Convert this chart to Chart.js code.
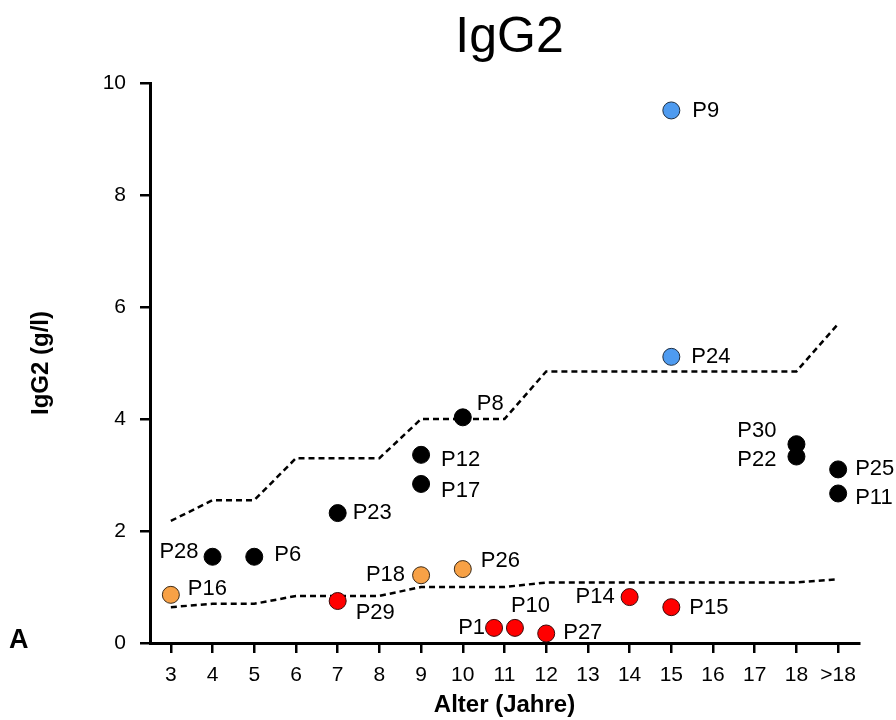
<!DOCTYPE html>
<html>
<head>
<meta charset="utf-8">
<title>IgG2</title>
<script src="https://cdn.jsdelivr.net/npm/chart.js@4.4.1/dist/chart.umd.min.js"></script>
<style>
    body { margin: 0; background: #fff; }
    canvas { display: block; }
</style>
</head>
<body>
<canvas id="iggChart" width="896" height="720"></canvas>
<script>
// Patients, age and measured IgG2
const patients = ['P16', 'P28', 'P6', 'P23', 'P29', 'P12', 'P17', 'P18', 'P8', 'P26', 'P1',
    'P10', 'P27', 'P14', 'P15', 'P9', 'P24', 'P30', 'P22', 'P25', 'P11'];
const ages = [3, 4, 5, 7, 7, 9, 9, 9, 10, 10, 10.75, 11.25, 12, 14, 15, 15, 15, 18, 18, 19, 19];
const igg2 = [0.86, 1.54, 1.54, 2.32, 0.75, 3.36, 2.84, 1.21, 4.03, 1.32, 0.27,
    0.27, 0.17, 0.82, 0.64, 9.51, 5.11, 3.55, 3.33, 3.10, 2.67];
const groups = ['orange', 'black', 'black', 'black', 'red', 'black', 'black', 'orange', 'black', 'orange', 'red',
    'red', 'red', 'red', 'red', 'blue', 'blue', 'black', 'black', 'black', 'black'];

// Age reference range (upper / lower limit)
const refAges = [3, 4, 5, 6, 7, 8, 9, 10, 11, 12, 13, 14, 15, 16, 17, 18, 19];
const upperRef = [2.18, 2.55, 2.55, 3.3, 3.3, 3.3, 4.0, 4.0, 4.0, 4.85, 4.85, 4.85, 4.85, 4.85, 4.85, 4.85, 5.7];
const lowerRef = [0.64, 0.7, 0.7, 0.84, 0.84, 0.84, 1.0, 1.0, 1.0, 1.08, 1.08, 1.08, 1.08, 1.08, 1.08, 1.08, 1.14];

// Axis ticks
const ageTicks = [3, 4, 5, 6, 7, 8, 9, 10, 11, 12, 13, 14, 15, 16, 17, 18, 19];
const ageLabels = ['3', '4', '5', '6', '7', '8', '9', '10', '11', '12', '13', '14', '15', '16', '17', '18', '>18'];

const groupColors = {
    black: { fill: '#000000', border: '#000000' },
    orange: { fill: '#F7A146', border: '#3a2a18' },
    red: { fill: '#FF0000', border: '#3a0a0a' },
    blue: { fill: '#4E9BF0', border: '#1d2d40' }
};

// label placement next to each dot: dx, dy, alignment
const labelPos = {
    P9: [21, 0, 'left'], P24: [20, 0, 'left'], P8: [14, -13, 'left'], P12: [20, 5, 'left'],
    P17: [20, 7, 'left'], P23: [15, 0, 'left'], P28: [-14, -5, 'right'], P6: [20, -2, 'left'],
    P16: [17, -6, 'left'], P18: [-16, 0, 'right'], P29: [18, 12, 'left'], P26: [18, -8, 'left'],
    P1: [-9, 0, 'right'], P10: [-4, -22, 'left'], P27: [17, -1, 'left'], P14: [-15, 0, 'right'],
    P15: [18, 1, 'left'], P30: [-20, -13, 'right'], P22: [-20, 3, 'right'], P25: [17, 0, 'left'],
    P11: [17, 4, 'left']
};

const fontFamily = "'Liberation Sans', Arial, sans-serif";

const pointSets = Object.keys(groupColors).map(g => {
    const idx = patients.map((p, i) => i).filter(i => groups[i] === g);
    return {
        label: g,
        names: idx.map(i => patients[i]),
        data: idx.map(i => ({ x: ages[i], y: igg2[i] })),
        backgroundColor: groupColors[g].fill,
        borderColor: groupColors[g].border,
        borderWidth: 1,
        pointRadius: 8.5,
        pointHoverRadius: 8.5,
        showLine: false,
        order: 1
    };
});

const refLine = (values) => ({
    label: 'ref',
    data: refAges.map((a, i) => ({ x: a, y: values[i] })),
    showLine: true,
    borderColor: '#000',
    borderWidth: 2.5,
    borderDash: [6, 4],
    pointRadius: 0,
    fill: false,
    order: 2
});

// patient labels, heading and panel letter
const annotations = {
    id: 'annotations',
    afterDatasetsDraw(chart) {
        const ctx = chart.ctx;
        ctx.save();
        ctx.fillStyle = '#000';
        ctx.textBaseline = 'middle';
        ctx.font = '22px ' + fontFamily;
        chart.data.datasets.forEach((ds, di) => {
            if (!ds.names) return;
            const meta = chart.getDatasetMeta(di);
            meta.data.forEach((pt, i) => {
                const pos = labelPos[ds.names[i]] || [16, 0, 'left'];
                ctx.textAlign = pos[2];
                ctx.fillText(ds.names[i], pt.x + pos[0], pt.y + pos[1]);
            });
        });

        const area = chart.chartArea;
        ctx.textAlign = 'center';
        ctx.textBaseline = 'alphabetic';
        ctx.font = '50px ' + fontFamily;
        ctx.fillText('IgG2', (area.left + area.right) / 2 + 5, 52);

        ctx.textAlign = 'left';
        ctx.font = 'bold 27px ' + fontFamily;
        ctx.fillText('A', 9, 648);
        ctx.restore();
    }
};

const ctx = document.getElementById('iggChart').getContext('2d');
new Chart(ctx, {
    type: 'scatter',
    data: {
        datasets: [...pointSets, refLine(upperRef), refLine(lowerRef)]
    },
    options: {
        responsive: false,
        devicePixelRatio: 1,
        animation: false,
        layout: { padding: { top: 83, right: 37, left: 0, bottom: 0 } },
        plugins: {
            legend: { display: false },
            tooltip: { enabled: false }
        },
        scales: {
            x: {
                type: 'linear',
                min: 2.5,
                max: 19.5,
                afterBuildTicks: (scale) => { scale.ticks = ageTicks.map(v => ({ value: v })); },
                afterFit: (scale) => { scale.height = 77; },
                ticks: {
                    color: '#000',
                    padding: 10,
                    autoSkip: false,
                    maxRotation: 0,
                    font: { family: fontFamily, size: 21 },
                    callback: (value) => ageLabels[ageTicks.indexOf(value)]
                },
                grid: { drawOnChartArea: false, drawTicks: true, tickLength: 10, color: '#000', lineWidth: 2.5 },
                border: { display: true, color: '#000', width: 3 },
                title: {
                    display: true,
                    text: 'Alter (Jahre)',
                    color: '#000',
                    padding: { top: 0, bottom: 0 },
                    font: { family: fontFamily, size: 24, weight: 'bold' }
                }
            },
            y: {
                min: 0,
                max: 10,
                afterFit: (scale) => { scale.width = 150; },
                ticks: {
                    stepSize: 2,
                    color: '#000',
                    padding: 14,
                    font: { family: fontFamily, size: 21 }
                },
                grid: { drawOnChartArea: false, drawTicks: true, tickLength: 10, color: '#000', lineWidth: 2.5 },
                border: { display: true, color: '#000', width: 3 },
                title: {
                    display: true,
                    text: 'IgG2 (g/l)',
                    color: '#000',
                    padding: { top: 27, bottom: 0 },
                    font: { family: fontFamily, size: 24, weight: 'bold' }
                }
            }
        }
    },
    plugins: [annotations]
});
</script>
</body>
</html>
